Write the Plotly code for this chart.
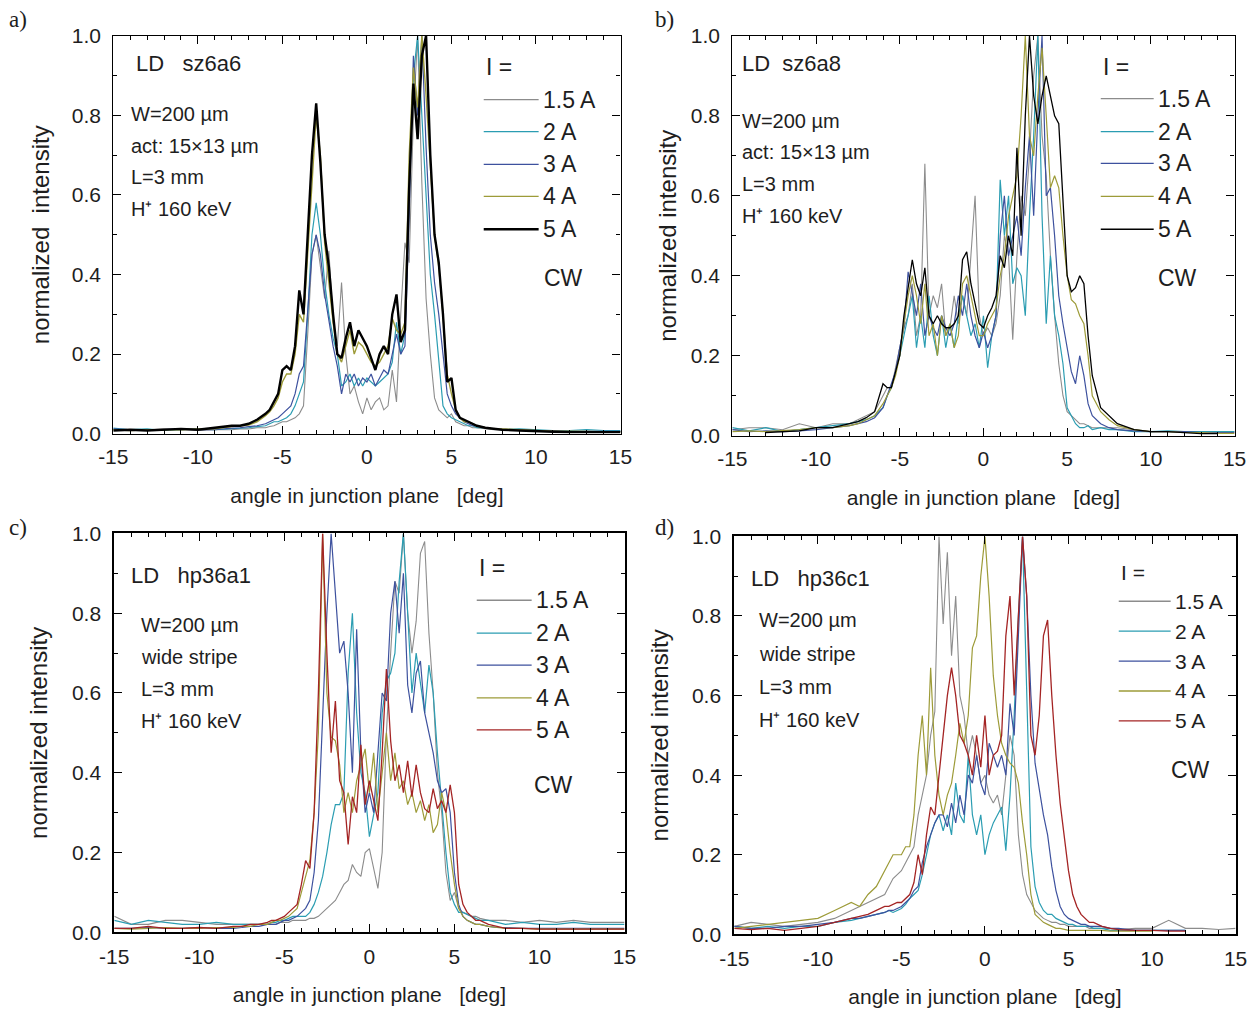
import plotly.graph_objects as go

W, H = 1255, 1012

# ---------------- data ----------------
angle = [-15, -14, -13, -12, -11, -10, -9, -8, -7.5, -7, -6.5,
         -6, -5.75, -5.5, -5.25, -5, -4.75, -4.5, -4.25,
         -4, -3.75, -3.5, -3.25, -3, -2.75, -2.5, -2.25,
         -2, -1.75, -1.5, -1.25, -1, -0.75, -0.5, -0.25,
         0, 0.25, 0.5, 0.75, 1, 1.25, 1.5, 1.75,
         2, 2.25, 2.5, 2.75, 3, 3.25, 3.5, 3.75,
         4, 4.25, 4.5, 4.75, 5, 5.25, 5.5, 5.75,
         6, 6.25, 6.5, 7, 7.5, 8, 9, 10, 11, 12, 13, 14, 15]

currents = ["1.5 A", "2 A", "3 A", "4 A", "5 A"]
x_ticks = [-15, -10, -5, 0, 5, 10, 15]
x_tick_text = ["-15", "-10", "-5", "0", "5", "10", "15"]

# panel a) LD sz6a6
a_15 = [0.01, 0.008, 0.01, 0.012, 0.01, 0.008, 0.01, 0.01, 0.012, 0.012, 0.015,
        0.015, 0.018, 0.02, 0.025, 0.03, 0.03, 0.035, 0.04,
        0.05, 0.07, 0.25, 0.45, 0.5, 0.42, 0.34, 0.46,
        0.28, 0.22, 0.38, 0.2, 0.1, 0.12, 0.08, 0.05,
        0.09, 0.06, 0.08, 0.09, 0.06, 0.07, 0.16, 0.08,
        0.3, 0.48, 0.43, 0.8, 1.0, 0.63, 0.34, 0.2,
        0.09, 0.06, 0.05, 0.04, 0.05, 0.03, 0.025, 0.02,
        0.02, 0.015, 0.015, 0.012, 0.01, 0.01, 0.008, 0.008, 0.006, 0.006, 0.006, 0.006, 0.006]
a_2 = [0.014, 0.01, 0.012, 0.008, 0.01, 0.012, 0.01, 0.012, 0.014, 0.015, 0.018,
       0.02, 0.025, 0.03, 0.03, 0.035, 0.04, 0.05, 0.07,
       0.1, 0.13, 0.3, 0.5, 0.58, 0.5, 0.38, 0.3,
       0.24, 0.2, 0.12, 0.13, 0.15, 0.12, 0.14, 0.12,
       0.14, 0.13, 0.12, 0.13, 0.14, 0.15, 0.18, 0.28,
       0.2, 0.25, 0.6, 0.9, 1.0, 0.8, 0.6, 0.4,
       0.3, 0.18, 0.07, 0.05, 0.04, 0.035, 0.03, 0.025,
       0.02, 0.02, 0.015, 0.015, 0.012, 0.01, 0.012, 0.01, 0.008, 0.008, 0.01, 0.008, 0.008]
a_3 = [0.012, 0.01, 0.008, 0.01, 0.012, 0.01, 0.01, 0.014, 0.015, 0.018, 0.02,
       0.025, 0.03, 0.035, 0.04, 0.05, 0.06, 0.07, 0.1,
       0.15, 0.17, 0.3, 0.45, 0.5, 0.45, 0.35, 0.28,
       0.22, 0.17, 0.1, 0.15, 0.13, 0.15, 0.12, 0.14,
       0.13, 0.15, 0.12, 0.14, 0.16, 0.15, 0.2, 0.25,
       0.2, 0.22, 0.55, 0.95, 0.8, 1.0, 0.72, 0.5,
       0.38, 0.3, 0.2, 0.1, 0.07, 0.05, 0.04, 0.03,
       0.025, 0.02, 0.02, 0.015, 0.012, 0.01, 0.01, 0.008, 0.008, 0.006, 0.006, 0.006, 0.006]
a_4 = [0.01, 0.008, 0.01, 0.01, 0.01, 0.012, 0.012, 0.018, 0.02, 0.022, 0.03,
       0.045, 0.055, 0.07, 0.09, 0.13, 0.15, 0.15, 0.2,
       0.3, 0.28, 0.45, 0.65, 0.8, 0.7, 0.48, 0.38,
       0.28, 0.2, 0.18, 0.22, 0.26, 0.2, 0.23, 0.22,
       0.2, 0.18, 0.17, 0.18, 0.2, 0.22, 0.29, 0.26,
       0.25, 0.28, 0.7, 0.92, 0.82, 1.0, 0.85, 0.68,
       0.5, 0.42, 0.3, 0.15, 0.1, 0.06, 0.04, 0.03,
       0.03, 0.025, 0.02, 0.015, 0.012, 0.012, 0.01, 0.008, 0.006, 0.006, 0.005, 0.005, 0.005]
a_5 = [0.008, 0.01, 0.008, 0.01, 0.012, 0.01, 0.015, 0.02, 0.02, 0.025, 0.035,
       0.05, 0.06, 0.08, 0.1, 0.16, 0.17, 0.16, 0.22,
       0.36, 0.3, 0.5, 0.7, 0.83, 0.68, 0.5, 0.42,
       0.3, 0.2, 0.19, 0.24, 0.28, 0.22, 0.26, 0.24,
       0.22, 0.19, 0.16, 0.2, 0.22, 0.2, 0.3, 0.35,
       0.23, 0.26, 0.62, 0.88, 0.74, 0.95, 1.0, 0.7,
       0.5, 0.43, 0.3, 0.13, 0.14, 0.06, 0.04, 0.035,
       0.03, 0.025, 0.02, 0.015, 0.012, 0.01, 0.008, 0.006, 0.005, 0.004, 0.004, 0.004, 0.004]

# panel b) LD sz6a8
b_15 = [0.015, 0.02, 0.02, 0.015, 0.03, 0.02, 0.03, 0.03, 0.04, 0.05, 0.06,
        0.1, 0.12, 0.12, 0.17, 0.22, 0.27, 0.3, 0.38,
        0.25, 0.3, 0.68, 0.3, 0.35, 0.32, 0.38, 0.25,
        0.27, 0.35, 0.28, 0.35, 0.3, 0.45, 0.6, 0.3,
        0.25, 0.27, 0.25, 0.28, 0.35, 0.5, 0.45, 0.24,
        0.45, 0.6, 0.55, 0.7, 0.9, 1.0, 0.75, 0.65,
        0.45, 0.3, 0.18, 0.1, 0.06, 0.05, 0.04, 0.03,
        0.03, 0.025, 0.02, 0.02, 0.02, 0.02, 0.015, 0.01, 0.01, 0.01, 0.01, 0.01, 0.01]
b_2 = [0.02, 0.012, 0.02, 0.01, 0.015, 0.02, 0.025, 0.03, 0.035, 0.04, 0.05,
       0.07, 0.1, 0.12, 0.16, 0.2, 0.25, 0.3, 0.35,
       0.22, 0.3, 0.22, 0.35, 0.25, 0.2, 0.3, 0.22,
       0.28, 0.22, 0.3, 0.35, 0.3, 0.25, 0.28, 0.22,
       0.3, 0.17, 0.25, 0.3, 0.64, 0.5, 0.6, 0.38,
       0.42, 0.4, 0.3, 0.55, 0.75, 1.0, 0.55, 0.28,
       0.45, 0.3, 0.25, 0.18, 0.07, 0.05, 0.03, 0.02,
       0.02, 0.025, 0.015, 0.02, 0.015, 0.015, 0.01, 0.01, 0.012, 0.01, 0.01, 0.01, 0.01]
b_3 = [0.015, 0.01, 0.012, 0.01, 0.012, 0.015, 0.02, 0.025, 0.03, 0.035, 0.045,
       0.07, 0.1, 0.13, 0.16, 0.22, 0.27, 0.41, 0.35,
       0.3, 0.38, 0.25, 0.3, 0.27, 0.25, 0.3, 0.27,
       0.25, 0.28, 0.35, 0.3, 0.38, 0.3, 0.25, 0.22,
       0.26, 0.22, 0.25, 0.3, 0.5, 0.6, 0.45, 0.5,
       0.55, 0.45, 0.62, 0.75, 0.55, 0.8, 1.0, 0.6,
       0.62, 0.5, 0.35, 0.28, 0.22, 0.16, 0.13, 0.2,
       0.15, 0.08, 0.05, 0.03, 0.02, 0.015, 0.012, 0.01, 0.01, 0.01, 0.008, 0.008, 0.008]
b_4 = [0.01, 0.012, 0.01, 0.012, 0.015, 0.02, 0.02, 0.025, 0.03, 0.04, 0.05,
       0.08, 0.1, 0.12, 0.15, 0.2, 0.28, 0.35, 0.4,
       0.35, 0.28, 0.38, 0.25, 0.28, 0.2, 0.3, 0.25,
       0.28, 0.22, 0.25, 0.38, 0.4, 0.35, 0.3, 0.25,
       0.25, 0.28, 0.3, 0.32, 0.4, 0.45, 0.55, 0.6,
       0.65, 0.8, 1.0, 0.75, 0.7, 0.85, 0.97, 0.8,
       0.62, 0.65, 0.62, 0.5, 0.4, 0.34, 0.33, 0.3,
       0.28, 0.2, 0.1, 0.06, 0.04, 0.025, 0.015, 0.01, 0.01, 0.008, 0.008, 0.006, 0.006]
b_5 = [None, None, 0.008, 0.01, 0.012, 0.02, 0.02, 0.03, 0.035, 0.045, 0.06,
       0.13, 0.12, 0.12, 0.16, 0.2, 0.3, 0.37, 0.44,
       0.38, 0.35, 0.42, 0.3, 0.28, 0.3, 0.28, 0.27,
       0.27, 0.28, 0.3, 0.44, 0.46, 0.38, 0.33, 0.28,
       0.27, 0.3, 0.32, 0.35, 0.45, 0.42, 0.5, 0.45,
       0.72, 0.5, 0.8, 1.0, 0.85, 0.78, 0.85, 0.9,
       0.85, 0.8, 0.78, 0.6, 0.4, 0.36, 0.37, 0.4,
       0.38, 0.25, 0.15, 0.07, 0.05, 0.03, 0.015, 0.01, 0.01, 0.008, 0.005, 0.005, None]

# panel c) LD hp36a1
c_15 = [0.04, 0.02, 0.02, 0.03, 0.03, 0.025, 0.02, 0.02, 0.02, 0.02, 0.02,
        0.02, 0.02, 0.02, 0.025, 0.025, 0.025, 0.03, 0.03,
        0.03, 0.03, 0.035, 0.035, 0.04, 0.05, 0.06, 0.07,
        0.08, 0.1, 0.12, 0.13, 0.17, 0.15, 0.14, 0.2,
        0.21, 0.16, 0.11, 0.2, 0.5, 0.7, 0.88, 0.85,
        1.0, 0.8, 0.7, 0.78, 0.95, 0.98, 0.75, 0.6,
        0.4, 0.3, 0.15, 0.08, 0.1, 0.06, 0.05, 0.045,
        0.04, 0.04, 0.035, 0.03, 0.03, 0.03, 0.025, 0.03, 0.025, 0.03, 0.025, 0.025, 0.025]
c_2 = [0.03, 0.02, 0.03, 0.025, 0.02, 0.02, 0.025, 0.02, 0.02, 0.02, 0.02,
       0.02, 0.025, 0.025, 0.03, 0.03, 0.035, 0.04, 0.04,
       0.04, 0.04, 0.05, 0.07, 0.1, 0.14, 0.2, 0.27,
       0.32, 0.32, 0.35, 0.65, 0.8, 0.55, 0.4, 0.35,
       0.24, 0.3, 0.35, 0.55, 0.63, 0.65, 0.7, 0.88,
       1.0, 0.8, 0.6, 0.7, 0.62, 0.55, 0.67, 0.6,
       0.45, 0.32, 0.2, 0.1, 0.07, 0.05, 0.05, 0.045,
       0.04, 0.035, 0.03, 0.03, 0.025, 0.02, 0.025, 0.02, 0.02, 0.025, 0.02, 0.02, 0.02]
c_3 = [0.01, 0.01, 0.012, 0.01, 0.01, 0.012, 0.01, 0.01, 0.012, 0.015, 0.015,
       0.02, 0.02, 0.02, 0.025, 0.03, 0.03, 0.035, 0.04,
       0.05, 0.06, 0.08, 0.15, 0.28, 0.55, 0.8, 1.0,
       0.85, 0.7, 0.73, 0.6, 0.4, 0.76, 0.45, 0.3,
       0.35, 0.3, 0.45, 0.6, 0.58, 0.8, 0.88, 0.75,
       0.9, 0.62, 0.55, 0.65, 0.68, 0.55, 0.5, 0.45,
       0.38, 0.35, 0.36, 0.3, 0.15, 0.07, 0.04, 0.03,
       0.025, 0.02, 0.02, 0.015, 0.012, 0.012, 0.01, 0.01, 0.01, 0.01, 0.01, 0.01, 0.01]
c_4 = [0.01, 0.008, 0.01, 0.012, 0.01, 0.01, 0.012, 0.012, 0.015, 0.015, 0.02,
       0.02, 0.025, 0.03, 0.03, 0.035, 0.04, 0.05, 0.06,
       0.1, 0.14, 0.18, 0.3, 0.5, 1.0, 0.6, 0.49,
       0.48, 0.42, 0.3, 0.35, 0.3, 0.38, 0.42, 0.46,
       0.35, 0.45, 0.3, 0.4, 0.5, 0.38, 0.45, 0.36,
       0.38, 0.32, 0.35, 0.3, 0.33, 0.28, 0.32, 0.25,
       0.27, 0.35, 0.3, 0.2, 0.12, 0.06, 0.04, 0.03,
       0.025, 0.02, 0.02, 0.015, 0.012, 0.01, 0.01, 0.008, 0.008, 0.008, 0.008, 0.008, 0.008]
c_5 = [0.01, 0.01, 0.015, 0.01, 0.01, 0.012, 0.01, 0.015, 0.015, 0.02, 0.02,
       0.025, 0.03, 0.03, 0.035, 0.04, 0.05, 0.06, 0.07,
       0.12, 0.18, 0.16, 0.3, 0.6, 1.0, 0.7, 0.45,
       0.58, 0.38, 0.35, 0.22, 0.34, 0.3, 0.47, 0.32,
       0.38, 0.33, 0.28, 0.45, 0.66, 0.48, 0.38, 0.42,
       0.35, 0.43, 0.34, 0.42, 0.35, 0.31, 0.3, 0.36,
       0.31, 0.33, 0.3, 0.37, 0.3, 0.12, 0.07, 0.05,
       0.04, 0.03, 0.03, 0.02, 0.015, 0.01, 0.01, 0.008, 0.008, 0.008, 0.008, 0.008, 0.008]

# panel d) LD hp36c1
d_15 = [0.02, 0.03, 0.025, 0.02, 0.025, 0.03, 0.04, 0.06, 0.07, 0.08, 0.09,
        0.1, 0.12, 0.14, 0.15, 0.16, 0.18, 0.2, 0.22,
        0.3, 0.35, 0.4, 0.5, 0.56, 1.0, 0.78, 0.96,
        0.7, 0.85, 0.6, 0.55, 0.45, 0.5, 0.45, 0.38,
        0.4, 0.35, 0.33, 0.35, 0.3, 0.4, 0.5, 0.45,
        0.25, 0.15, 0.1, 0.08, 0.06, 0.05, 0.04, 0.035,
        0.03, 0.03, 0.025, 0.025, 0.02, 0.02, 0.02, 0.02,
        0.02, 0.015, 0.015, 0.015, 0.015, 0.012, 0.015, 0.015, 0.035, 0.015, 0.015, 0.012, 0.015]
d_2 = [0.02, 0.015, 0.02, 0.015, 0.02, 0.02, 0.03, 0.035, 0.04, 0.045, 0.05,
       0.055, 0.06, 0.055, 0.06, 0.065, 0.075, 0.09, 0.1,
       0.11, 0.15, 0.2, 0.25, 0.28, 0.3, 0.26, 0.3,
       0.25, 0.38, 0.3, 0.28, 0.45, 0.3, 0.25, 0.3,
       0.2, 0.25, 0.28, 0.3, 0.32, 0.21, 0.35, 0.55,
       0.8, 1.0, 0.6, 0.22, 0.12, 0.08, 0.06, 0.05,
       0.05, 0.04, 0.035, 0.03, 0.025, 0.025, 0.02, 0.02,
       0.02, 0.02, 0.015, 0.015, 0.01, 0.01, 0.01, 0.01, 0.01, 0.01, None, None, None]
d_3 = [0.02, 0.015, 0.015, 0.02, 0.02, 0.025, 0.03, 0.04, 0.04, 0.045, 0.05,
       0.055, 0.06, 0.06, 0.065, 0.07, 0.08, 0.09, 0.11,
       0.12, 0.18, 0.22, 0.25, 0.28, 0.3, 0.3, 0.27,
       0.33, 0.28, 0.35, 0.3, 0.4, 0.38, 0.45, 0.38,
       0.35, 0.48, 0.45, 0.42, 0.45, 0.4, 0.58, 0.5,
       0.75, 1.0, 0.85, 0.6, 0.43, 0.36, 0.3, 0.25,
       0.17, 0.11, 0.07, 0.05, 0.04, 0.035, 0.03, 0.025,
       0.025, 0.02, 0.02, 0.02, 0.015, 0.015, 0.01, 0.01, 0.01, 0.01, None, None, None]
d_4 = [0.015, 0.02, 0.025, 0.03, 0.035, 0.04, 0.06, 0.08, 0.07, 0.1, 0.12,
       0.16, 0.18, 0.2, 0.2, 0.2, 0.22, 0.22, 0.3,
       0.45, 0.55, 0.4, 0.67, 0.45, 0.35, 0.3, 0.35,
       0.38, 0.45, 0.53, 0.48, 0.55, 0.72, 0.75, 0.9,
       1.0, 0.85, 0.65, 0.55, 0.48, 0.45, 0.43, 0.42,
       0.38, 0.28, 0.2, 0.1, 0.05, 0.04, 0.03, 0.025,
       0.02, 0.015, 0.015, 0.012, 0.01, 0.01, 0.01, 0.01,
       0.01, 0.01, 0.01, 0.01, 0.008, 0.008, 0.008, 0.008, None, None, None, None, None]
d_5 = [0.015, 0.012, 0.015, 0.01, 0.015, 0.02, 0.03, 0.04, 0.045, 0.05, 0.06,
       0.07, 0.07, 0.075, 0.08, 0.08, 0.09, 0.1, 0.13,
       0.2, 0.15, 0.25, 0.32, 0.3, 0.4, 0.5, 0.6,
       0.67, 0.6, 0.5, 0.48, 0.45, 0.4, 0.5, 0.42,
       0.55, 0.4, 0.45, 0.46, 0.5, 0.75, 0.85, 0.6,
       0.8, 1.0, 0.85, 0.5, 0.45, 0.55, 0.75, 0.79,
       0.6, 0.45, 0.33, 0.25, 0.16, 0.1, 0.07, 0.05,
       0.04, 0.03, 0.03, 0.02, 0.015, 0.012, 0.01, 0.01, 0.008, 0.008, None, None, None]

# ---------------- styling ----------------
C_GRAY, C_TEAL, C_BLUE, C_OLIVE = "#8c8c8c", "#2b9db2", "#3d519e", "#9d9b38"
C_BLACK, C_RED = "#000000", "#a42424"
FONT = "Liberation Sans, Arial, sans-serif"
SERIF = "Liberation Serif, Times New Roman, serif"
TXT = "#1e1e1e"

# the captured picture comes out slightly shrunk about the page centre;
# positions below are given in reference pixels and mapped through this
SHRINK, CX, CY = 0.98, 627.5, 506.0


def fx(px):
    return (CX + (px - CX) / SHRINK) / W


def fy(py):
    return 1 - (CY + (py - CY) / SHRINK) / H


panels = [
    dict(series=[a_15, a_2, a_3, a_4, a_5],
         colors=[C_GRAY, C_TEAL, C_BLUE, C_OLIVE, C_BLACK],
         widths=[1.1, 1.2, 1.2, 1.4, 2.4],
         box=(111, 619, 34, 433), frame=1.3, ystand=15,
         ytitle="normalized\u00a0\u00a0intensity"),
    dict(series=[b_15, b_2, b_3, b_4, b_5],
         colors=[C_GRAY, C_TEAL, C_BLUE, C_OLIVE, C_BLACK],
         widths=[1.1, 1.2, 1.2, 1.2, 1.3],
         box=(731, 1234, 34, 435), frame=1.3, ystand=7,
         ytitle="normalized intensity"),
    dict(series=[c_15, c_2, c_3, c_4, c_5],
         colors=[C_GRAY, C_TEAL, C_BLUE, C_OLIVE, C_RED],
         widths=[1.1, 1.2, 1.2, 1.2, 1.3],
         box=(112, 623, 533, 933), frame=2.0, ystand=17,
         ytitle="normalized intensity"),
    dict(series=[d_15, d_2, d_3, d_4, d_5],
         colors=[C_GRAY, C_TEAL, C_BLUE, C_OLIVE, C_RED],
         widths=[1.1, 1.2, 1.2, 1.2, 1.3],
         box=(733, 1235, 536, 935), frame=2.0, ystand=17,
         ytitle="normalized intensity"),
]
x_title = "angle in junction plane\u00a0\u00a0\u00a0[deg]"

fig = go.Figure()
layout = dict(width=W, height=H, margin=dict(l=0, r=0, t=0, b=0),
              paper_bgcolor="white", plot_bgcolor="white", showlegend=False,
              font=dict(family=FONT, color=TXT))

for i, p in enumerate(panels):
    n = "" if i == 0 else str(i + 1)
    x0, x1, y0, y1 = p["box"]
    for ser, col, wd, cur in zip(p["series"], p["colors"], p["widths"], currents):
        fig.add_trace(go.Scatter(x=angle, y=ser, mode="lines", name=cur,
                                 line=dict(color=col, width=wd),
                                 xaxis="x" + n, yaxis="y" + n, hoverinfo="skip"))
    layout["xaxis" + n] = dict(
        domain=[fx(x0), fx(x1)], anchor="y" + n, range=[-15, 15],
        tickmode="array", tickvals=x_ticks, ticktext=x_tick_text,
        showline=True, linecolor="black", linewidth=p["frame"], mirror="ticks",
        ticks="inside", ticklen=8, tickwidth=1.2, tickcolor="black",
        minor=dict(dtick=1, tick0=0, ticks="inside", ticklen=4, tickwidth=1, tickcolor="black"),
        showgrid=False, zeroline=False, ticklabelstandoff=4,
        tickfont=dict(size=21, family=FONT, color=TXT),
        title=dict(text=x_title, standoff=21, font=dict(size=21, family=FONT, color=TXT)))
    layout["yaxis" + n] = dict(
        domain=[fy(y1), fy(y0)], anchor="x" + n, range=[0, 1],
        dtick=0.2, tick0=0, tickformat=".1f",
        showline=True, linecolor="black", linewidth=p["frame"], mirror="ticks",
        ticks="inside", ticklen=8, tickwidth=1.2, tickcolor="black",
        minor=dict(dtick=0.1, tick0=0, ticks="inside", ticklen=4, tickwidth=1, tickcolor="black"),
        showgrid=False, zeroline=False, ticklabelstandoff=7,
        tickfont=dict(size=21, family=FONT, color=TXT),
        title=dict(text=p["ytitle"], standoff=p["ystand"],
                   font=dict(size=24, family=FONT, color=TXT)))

annotations = []
shapes = []


def text(px, py, s, size=18, xanchor="left", family=FONT):
    annotations.append(dict(x=fx(px), y=fy(py), xref="paper", yref="paper", text=s,
                            showarrow=False, xanchor=xanchor, yanchor="middle",
                            font=dict(size=size, family=family, color=TXT)))


# panel labels
text(5, 18, "a)", 23, family=SERIF)
text(652, 18, "b)", 23, family=SERIF)
text(5, 527, "c)", 23, family=SERIF)
text(652, 527, "d)", 23, family=SERIF)

# info blocks
HPLUS = "H\u207a 160 keV"
info = [
    (132, 62, "LD\u00a0\u00a0\u00a0sz6a6", 127, [(112, "W=200 \u00b5m"), (144, "act: 15\u00d713 \u00b5m"),
                                             (176, "L=3 mm"), (208, HPLUS)]),
    (739, 62, "LD\u00a0\u00a0sz6a8", 739, [(119, "W=200 \u00b5m"), (151, "act: 15\u00d713 \u00b5m"),
                                          (183, "L=3 mm"), (215, HPLUS)]),
    (127, 575, "LD\u00a0\u00a0\u00a0hp36a1", 137, [(625, "W=200 \u00b5m"), (657, "wide stripe"),
                                                 (689, "L=3 mm"), (721, HPLUS)]),
    (748, 578, "LD\u00a0\u00a0\u00a0hp36c1", 756, [(620, "W=200 \u00b5m"), (654, "wide stripe"),
                                                 (687, "L=3 mm"), (720, HPLUS)]),
]
for hx, hy, head, lx, lines in info:
    text(hx, hy, head, 22)
    for ly, s in lines:
        text(lx, ly, s, 20)

# legends (drawn manually)
legends = [
    (482, 537, 65, [98, 130, 163, 195, 228], 23, panels[0]),
    (1100, 1153, 65, [97, 130, 162, 195, 228], 23, panels[1]),
    (475, 530, 568, [600, 633, 665, 698, 730], 23, panels[2]),
    (1118, 1170, 572, [601, 631, 661, 691, 721], 21, panels[3]),
]
for lx0, lx1, ty, ys, fs, p in legends:
    text(lx0, ty, "I =", fs)
    for yy, col, wd, cur in zip(ys, p["colors"], p["widths"], currents):
        shapes.append(dict(type="line", xref="paper", yref="paper",
                           x0=fx(lx0), x1=fx(lx1), y0=fy(yy), y1=fy(yy),
                           line=dict(color=col, width=max(wd, 1.3))))
        text(lx1 + 2, yy, cur, fs)

text(562, 277, "CW", 23, "center")
text(1177, 277, "CW", 23, "center")
text(552, 785, "CW", 23, "center")
text(1190, 770, "CW", 23, "center")

layout["annotations"] = annotations
layout["shapes"] = shapes
fig.update_layout(**layout)
fig.write_html("out.html")
